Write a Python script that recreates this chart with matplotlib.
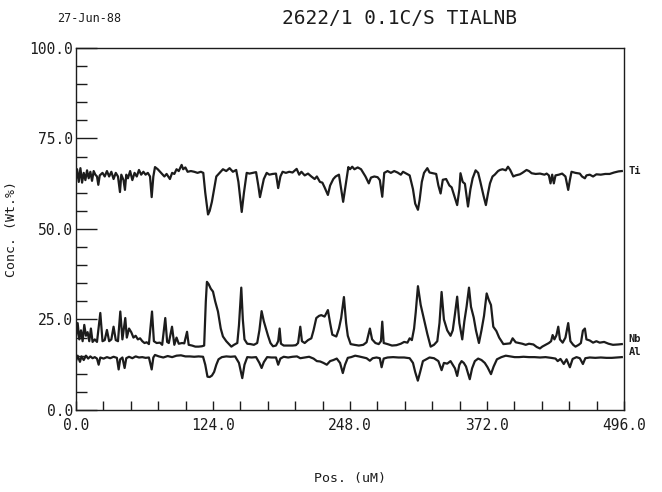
"""
Line scan plot: Ti, Nb, Al concentration along the scan.
"""

import matplotlib

matplotlib.use('Agg')
import matplotlib.pyplot as plt
import matplotlib.ticker as mticker
import numpy as np

TITLE = "2622/1 0.1C/S TIALNB"
DATE = "27-Jun-88"
X_LABEL = "Pos. (uM)"
Y_LABEL = "Conc. (Wt.%)"
X_TICKS = [0.0, 124.0, 248.0, 372.0, 496.0]
Y_TICKS = [0.0, 25.0, 50.0, 75.0, 100.0]

# (position, concentration)
ti_points = [
    (0, 64), (1, 66.5), (2.5, 63), (4, 66.8), (5.5, 62.8), (7, 65.5), (8.5, 63.5),
    (10, 66.2), (11.5, 64), (13, 65.8), (14.5, 63.3), (16, 66), (17.5, 65), (19, 64.5),
    (20.2, 62.2), (21.5, 64.8), (24, 65.5), (26, 64.5), (28, 66), (30, 64.5), (32, 65.8),
    (34, 63.8), (36, 65.5), (38, 64.5), (39.8, 60.2), (41, 65), (43, 63.5), (44.3, 60.8),
    (45.5, 65), (47, 64), (49, 66), (51, 63.5), (53, 65.5), (55, 64.5), (57, 66.3),
    (59, 65), (61, 65.8), (63, 65), (65, 65.5), (67, 64.5), (68.5, 58.8), (70, 64.5),
    (71.5, 67.1), (74, 66.5), (77, 65.5), (80, 64.5), (82, 65.2), (85, 63.8), (87, 65.5),
    (89, 65.2), (91, 66.5), (93, 66), (95.6, 67.7), (97, 66.5), (99, 67), (101, 65.8),
    (104, 66), (107, 65.8), (110, 65.5), (113, 65.8), (115.2, 65.5), (117, 60),
    (119.5, 54), (121, 55), (123, 57.5), (125, 61), (127, 64.5), (130, 65.5), (133, 66.5),
    (136, 66), (139, 66.8), (142, 65.8), (145, 66.3), (147, 63), (150, 54.7), (152, 60),
    (154.5, 65.5), (157, 65.3), (160, 65.5), (163, 65.7), (165, 62), (166.5, 58.8),
    (168, 61), (170, 63.8), (172.6, 65.5), (175, 65), (178, 65.2), (181, 65.3),
    (183, 61.3), (185, 64.5), (187, 65.8), (190, 65.5), (193, 65.8), (196, 65.6),
    (199.7, 66.6), (202, 65), (204, 65.8), (207, 64.8), (210, 65.3), (213, 64.5),
    (216, 63.8), (218, 64.5), (220.8, 63), (223, 62.8), (225, 61.5), (228, 59.4),
    (230, 62), (232.9, 63.8), (235, 64.5), (238, 65), (240, 61), (241.8, 57.5),
    (243.5, 61), (246.5, 67.1), (248, 66.5), (250, 67.2), (252, 66.5), (255, 67),
    (258, 66.5), (260, 65.5), (262, 64.5), (265, 62.6), (267, 64.2), (270, 64.5),
    (273, 64.3), (275, 63.5), (277.2, 58.9), (279, 65.5), (282, 66), (285, 65.5),
    (288, 66), (291, 65.6), (294, 65), (296, 65.8), (299, 65.3), (302, 64.8), (305, 61),
    (307, 57), (309.5, 55.3), (311, 58), (313, 63), (315, 65.5), (318, 66.8), (320, 65.6),
    (323, 65.4), (326, 65.2), (328, 62), (330, 59.8), (332, 63.6), (335, 63.8), (338, 62),
    (340, 61.5), (342, 59.5), (345, 56.6), (347, 61), (348, 65.4), (350, 63), (352, 62.5),
    (354.8, 56.2), (357, 61), (359, 64), (361.7, 66.2), (364, 65.5), (366, 63),
    (369, 59), (371, 56.6), (373, 60), (374.7, 62.6), (377, 64.5), (379, 65), (382, 66),
    (383.7, 66.3), (386, 66.5), (389, 66.2), (391, 67.2), (393, 66.3), (395.8, 64.5),
    (398, 64.8), (401.8, 65.1), (404, 65.5), (407.8, 66.3), (410, 66), (412.4, 65.4),
    (416, 65.2), (420, 65.3), (424, 65), (426, 65.3), (428, 64.8), (429.5, 62.6),
    (431, 65), (432.5, 62.6), (434, 64.8), (437, 65), (440, 65.3), (443, 64.5),
    (445.5, 60.8), (447, 63.5), (448.5, 65.8), (452, 65.5), (456, 65.3), (458, 64.5),
    (460.6, 64), (462, 64.8), (465, 65), (468, 64.5), (471, 65.1), (475, 65), (479, 65.2),
    (483, 65.2), (487, 65.6), (491, 65.9), (494, 66),
]

nb_points = [
    (0, 20), (1.5, 24), (3, 19.5), (4.5, 22), (6, 19), (7.5, 23.5), (9, 20.5),
    (10.5, 21.5), (12, 19), (13.5, 22.5), (15, 18.8), (17, 19.5), (19, 18.8), (22, 26.8),
    (24, 19), (26, 19.3), (28, 22.1), (30, 19), (32, 19.5), (34, 23), (36, 19.3), (38, 19),
    (40.1, 27.2), (42, 19.5), (44.6, 25.4), (46, 20), (48, 22.5), (50, 21.5), (52, 20),
    (54, 20.5), (56, 19.5), (58, 19.8), (60, 19), (62, 18.5), (64, 18.7), (66, 18.2),
    (68.8, 27.2), (70.5, 19), (73, 18.5), (76, 18.6), (78, 18), (80.8, 25.4), (82.5, 18.8),
    (84, 18.5), (86.9, 23), (89, 18), (91, 20), (93, 18.3), (96, 18.5), (98, 18.4),
    (100.5, 21.6), (102, 18), (105, 17.8), (108, 17.5), (111, 17.5), (114, 17.6),
    (116, 17.8), (117.5, 30), (118.5, 35.4), (120, 34.8), (122, 33.5), (124, 32.7),
    (126, 30), (128.5, 27.2), (131, 22.5), (133, 20.3), (136, 19), (140.6, 17.5),
    (143, 18), (146, 18.5), (147.5, 23.4), (149.6, 33.8), (151, 25), (152.5, 19.5),
    (155, 18.3), (158, 18.2), (161, 18), (164, 18.5), (166, 22), (168, 27.3), (170, 24.5),
    (173.8, 20.5), (176, 18.5), (178.3, 17.6), (181, 17.8), (183, 19), (184.3, 22.5),
    (185.5, 18.3), (188, 17.8), (192, 17.8), (196, 17.8), (199, 17.9), (201, 18.5),
    (203, 23), (204.5, 19), (207, 18.5), (210, 19.3), (213, 19.8), (215, 22),
    (217.5, 25.4), (220, 26), (222, 26.2), (225, 25.8), (228, 27.6), (230, 24),
    (232, 20.8), (235.6, 20.3), (238, 22.5), (240, 25.4), (242.5, 31.2), (244.5, 24),
    (246, 20.5), (248.6, 18.2), (252, 18), (256, 17.8), (260, 18), (263, 18.7),
    (266, 22.5), (268, 19.5), (271, 18.5), (274, 18.2), (276, 19), (277.2, 24.4),
    (278.5, 18.5), (282, 18.2), (286, 17.8), (290, 17.9), (294, 18.3), (297, 18.8),
    (300, 18.6), (302, 19.8), (304, 19.3), (306, 22.5), (307.5, 27), (309.5, 34.2),
    (312, 29), (315, 25), (318, 21), (321, 17.5), (324, 18), (327, 19), (329, 24),
    (330.9, 32.6), (333, 25), (336, 22), (339, 20.5), (341, 22), (343, 26.5),
    (345, 31.3), (347, 24), (349.6, 19.5), (351.5, 24.5), (353.5, 28.5), (355.7, 33.8),
    (357.5, 28.5), (360, 25.5), (362, 22), (364.7, 18.5), (367, 22), (369.3, 26),
    (371.7, 32.2), (373.5, 30.5), (375.6, 29), (377.7, 23), (380.5, 21.8), (383, 20),
    (386.8, 18.2), (390, 18.3), (393, 18.4), (395.2, 19.8), (398, 18.7), (401, 18.5),
    (404, 18.3), (407, 18), (410, 18.3), (414, 18.1), (417, 17.4), (419.9, 17),
    (422, 17.5), (425, 18), (428, 18.5), (430, 19), (431.4, 20.7), (433, 19.5),
    (434.8, 20.6), (436.5, 23), (438, 19.5), (440.5, 18.6), (443, 20), (445.5, 24),
    (447.5, 19), (450, 18), (452.1, 17.5), (455, 18), (457, 18.5), (458.8, 21.9),
    (460.6, 22.5), (462, 19.5), (465, 19.2), (468, 18.6), (471, 19), (474, 18.6),
    (478, 18.8), (482, 18.3), (486, 18), (490.8, 18.1), (494, 18.2),
]

al_points = [
    (0, 13.5), (1.5, 15), (3.6, 13.3), (5, 14.8), (7, 13.8), (9, 15), (11, 14.2),
    (13, 14.8), (15, 14.3), (17, 14.6), (19, 14.2), (20.5, 12.5), (22, 14.5), (25, 14.2),
    (28, 14.6), (31, 14.3), (34, 14.7), (37, 14.4), (38.6, 11.2), (40, 14), (42, 14.5),
    (44, 11.6), (45.5, 14.3), (48, 14.7), (51, 14.3), (54, 14.8), (57, 14.5), (60, 14.6),
    (63, 14.4), (66, 14.5), (68.5, 11.2), (70, 14.5), (71.5, 15.2), (75, 14.8),
    (79, 14.5), (83, 14.9), (87, 14.6), (91, 15), (95, 15.1), (99, 14.8), (103, 14.8),
    (107, 14.7), (111, 14.8), (115, 14.7), (117, 12.5), (119, 9.2), (121, 9.1),
    (123, 9.5), (125, 10.5), (127, 12.5), (129, 14), (132, 14.6), (136, 14.8),
    (140, 14.7), (144, 14.8), (147.5, 13), (150.5, 8.8), (152.5, 12.5), (155, 14.6),
    (159, 14.5), (163, 14.6), (166, 13), (168, 11.6), (170, 13.2), (173, 14.6),
    (177, 14.5), (181, 14.5), (183, 12.5), (185, 14.2), (188, 14.7), (192, 14.5),
    (196, 14.7), (200, 14.8), (203, 14.3), (207, 14.5), (211, 14.7), (215, 14.2),
    (218, 13.5), (221, 13.4), (224, 13.0), (227, 12.5), (230, 13.5), (233, 13.8),
    (236, 14.2), (239, 13), (241.5, 10.2), (243.5, 12.5), (246, 14.4), (249, 14.6),
    (252.7, 15), (256, 14.8), (260, 14.5), (263, 14.3), (266, 13.6), (268.5, 14.3),
    (272, 14.5), (275, 14.3), (276.6, 11.8), (278.5, 14.2), (282, 14.5), (287, 14.6),
    (292, 14.5), (297, 14.5), (302, 14.3), (305, 13), (307, 10.5), (309.4, 8.1),
    (311.5, 10.5), (314, 13.5), (317, 14), (320, 14.5), (324, 14.3), (328, 13.5),
    (330.9, 11), (333, 13), (336, 12.8), (339, 13.5), (341, 12.5), (343, 11.5),
    (345, 9.4), (347, 12.5), (349, 13.5), (351, 13), (353, 12), (356.4, 8.5),
    (358.5, 11.5), (361, 13.5), (364, 14.2), (367, 13.8), (370, 13), (372.5, 11.8),
    (375.6, 9.9), (378, 12), (381, 14), (385, 14.6), (389, 15), (393, 14.8), (397, 14.6),
    (401, 14.6), (405, 14.7), (410, 14.6), (415, 14.6), (420, 14.5), (425, 14.6),
    (430, 14.4), (434, 14.2), (436, 13.5), (438.5, 14.1), (441.5, 12.7), (444, 14),
    (447, 11.8), (449.5, 14.1), (453, 14.6), (456, 14.3), (458.8, 12.7), (461, 14.3),
    (465, 14.5), (470, 14.4), (475, 14.5), (480, 14.4), (485, 14.4), (490, 14.5),
    (494, 14.6),
]

series_names = ["Ti", "Nb", "Al"]
series_label_y = [66.0, 19.5, 16.0]

FONT = "DejaVu Sans Mono"
INK = "#1c1c1c"


def plot_line_scan(save_path: str = "out.png") -> None:
    """Строит профиль концентраций по трём элементам."""
    plt.rcParams["font.family"] = FONT

    fig = plt.figure(figsize=(6.62, 4.92), dpi=100)
    ax = fig.add_axes([0.1148, 0.1667, 0.8278, 0.7358])

    for pts in (ti_points, nb_points, al_points):
        arr = np.array(pts)
        ax.plot(arr[:, 0], arr[:, 1], color=INK, linewidth=1.6)

    ax.set_xlim(0, 496)
    ax.set_ylim(0, 100)

    ax.xaxis.set_major_locator(mticker.FixedLocator(X_TICKS))
    ax.xaxis.set_minor_locator(mticker.MultipleLocator(24.8))
    ax.yaxis.set_major_locator(mticker.FixedLocator(Y_TICKS))
    ax.yaxis.set_minor_locator(mticker.MultipleLocator(5))
    ax.xaxis.set_major_formatter(mticker.FormatStrFormatter("%.1f"))
    ax.yaxis.set_major_formatter(mticker.FormatStrFormatter("%.1f"))

    ax.tick_params(axis="x", which="both", direction="in", length=6.5, width=1,
                   color=INK, labelsize=10.5, pad=6, labelcolor=INK)
    ax.tick_params(axis="y", which="major", direction="in", length=15, width=1,
                   color=INK, labelsize=10.5, pad=2, labelcolor=INK)
    ax.tick_params(axis="y", which="minor", direction="in", length=8, width=1,
                   color=INK)

    for spine in ax.spines.values():
        spine.set_color(INK)
        spine.set_linewidth(1.0)

    ax.set_xlabel(X_LABEL, fontsize=9.5, color=INK, labelpad=28)
    ax.set_ylabel(Y_LABEL, fontsize=9.5, color=INK, labelpad=8)

    fig.text(0.604, 0.962, TITLE, fontsize=14, color=INK, ha="center", va="center")
    fig.text(0.134, 0.962, DATE, fontsize=8.5, color=INK, ha="center", va="center")

    trans = matplotlib.transforms.blended_transform_factory(ax.transAxes, ax.transData)
    for name, y in zip(series_names, series_label_y):
        ax.text(1.008, y, name, transform=trans, fontsize=7.5, color=INK,
                ha="left", va="center", fontweight="bold")

    fig.savefig(save_path, dpi=100)
    plt.close(fig)


if __name__ == "__main__":
    plot_line_scan()
